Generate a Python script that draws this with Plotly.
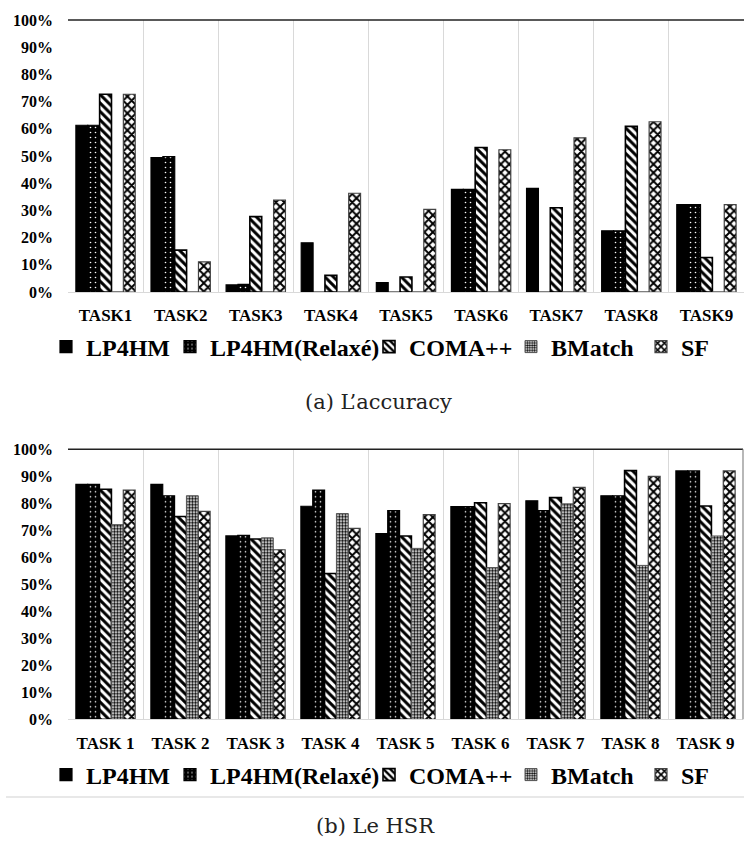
import plotly.graph_objects as go

tasks_a = ["TASK1", "TASK2", "TASK3", "TASK4", "TASK5", "TASK6", "TASK7", "TASK8", "TASK9"]
tasks_b = ["TASK 1", "TASK 2", "TASK 3", "TASK 4", "TASK 5", "TASK 6", "TASK 7", "TASK 8", "TASK 9"]
series_names = ["LP4HM", "LP4HM(Relaxé)", "COMA++", "BMatch", "SF"]

# (a) accuracy, percent
acc_lp4hm = [61.3, 49.4, 2.6, 18.1, 3.5, 37.7, 38.1, 22.5, 32.1]
acc_relaxe = [61.3, 49.8, 2.8, 0, 0, 37.7, 0, 22.5, 32.1]
acc_coma = [72.7, 15.4, 27.7, 6.1, 5.5, 53.1, 31.0, 60.9, 12.7]
acc_bmatch = [0, 0, 0, 0, 0, 0, 0, 0, 0]
acc_sf = [72.7, 11.1, 33.8, 36.3, 30.4, 52.3, 56.7, 62.6, 32.1]

# (b) HSR, percent
hsr_lp4hm = [87.0, 87.0, 67.9, 78.9, 68.8, 78.8, 80.9, 82.8, 92.0]
hsr_relaxe = [87.0, 82.8, 68.1, 84.9, 77.3, 78.8, 77.3, 82.8, 92.0]
hsr_coma = [85.2, 75.1, 66.8, 54.0, 67.9, 80.2, 82.1, 92.1, 79.0]
hsr_bmatch = [72.1, 82.8, 67.2, 76.2, 63.3, 56.2, 79.8, 57.0, 67.9]
hsr_sf = [84.9, 77.0, 62.8, 70.7, 75.8, 79.9, 85.9, 90.0, 92.0]

y_ticks = [0, 10, 20, 30, 40, 50, 60, 70, 80, 90, 100]
y_ticktext = ["0%", "10%", "20%", "30%", "40%", "50%", "60%", "70%", "80%", "90%", "100%"]

W, H = 744, 843
SERIF = "Liberation Serif"
CAPTION_FONT = "DejaVu Serif"

styles = [
    dict(color="black", line=dict(color="black", width=1.2)),
    dict(color="black", line=dict(color="black", width=1.2),
         pattern=dict(shape=".", fgcolor="white", bgcolor="black", size=5, solidity=0.08, fillmode="replace")),
    dict(color="white", line=dict(color="black", width=1.6),
         pattern=dict(shape="\\", fgcolor="black", bgcolor="white", size=6, solidity=0.5, fillmode="replace")),
    dict(color="white", line=dict(color="#555555", width=1.0),
         pattern=dict(shape=".", fgcolor="black", bgcolor="white", size=3, solidity=0.55, fillmode="replace")),
    dict(color="white", line=dict(color="#444444", width=1.2),
         pattern=dict(shape="x", fgcolor="black", bgcolor="white", size=6, solidity=0.55, fillmode="replace")),
]

fig = go.Figure()

data_a = [acc_lp4hm, acc_relaxe, acc_coma, acc_bmatch, acc_sf]
data_b = [hsr_lp4hm, hsr_relaxe, hsr_coma, hsr_bmatch, hsr_sf]

# legend symbol left edges (px) for each chart
leg_sym_x = [60, 184, 383, 525, 655]
leg_y_a = 347
leg_y_b = 775

for i, (name, vals) in enumerate(zip(series_names, data_a)):
    fig.add_trace(go.Bar(x=tasks_a, y=vals, name=name, marker=styles[i],
                         xaxis="x", yaxis="y", legend="legend" if i == 0 else f"legend{i+1}"))
for i, (name, vals) in enumerate(zip(series_names, data_b)):
    fig.add_trace(go.Bar(x=tasks_b, y=vals, name=name, marker=styles[i],
                         xaxis="x2", yaxis="y2", legend=f"legend{i+6}"))

def px_x(p):
    return p / W

def px_y(p):
    return 1 - p / H

legends = {}
for i in range(5):
    for j, ly in enumerate([leg_y_a, leg_y_b]):
        k = i + 1 + 5 * j
        key = "legend" if k == 1 else f"legend{k}"
        legends[key] = dict(
            x=px_x(leg_sym_x[i] - 14), xanchor="left",
            y=px_y(ly), yanchor="middle",
            orientation="h", bgcolor="rgba(0,0,0,0)", borderwidth=0,
            font=dict(family=SERIF, size=24, color="black", weight="bold"),
            itemclick=False, itemdoubleclick=False,
        )

axis_x_common = dict(
    type="category", tickson="boundaries", showgrid=True, gridcolor="#d9d9d9", gridwidth=1,
    showline=True, linecolor="#d9d9d9", linewidth=1, ticks="", zeroline=False,
    tickfont=dict(family=SERIF, size=17, color="black", weight="bold"),
    ticklabelstandoff=8, automargin=False,
)
axis_y_common = dict(
    range=[0, 100], tickvals=y_ticks, ticktext=y_ticktext, showgrid=False, zeroline=False,
    showline=False, ticks="",
    tickfont=dict(family=SERIF, size=16, color="black", weight="bold"),
    ticklabelstandoff=14, automargin=False,
)

fig.update_layout(
    width=W, height=H,
    font=dict(family=SERIF, color="black"),
    margin=dict(l=0, r=0, t=0, b=0, autoexpand=False),
    paper_bgcolor="white", plot_bgcolor="white",
    barmode="group", bargap=0.21, bargroupgap=0,
    xaxis=dict(domain=[px_x(68), 1.0], anchor="y", **axis_x_common),
    yaxis=dict(domain=[px_y(292), px_y(20)], anchor="x", **axis_y_common),
    xaxis2=dict(domain=[px_x(68), px_x(743)], anchor="y2", **axis_x_common),
    yaxis2=dict(domain=[px_y(719.3), px_y(449.3)], anchor="x2", **axis_y_common),
    showlegend=True,
    **legends,
)

# top border lines at 100%
fig.add_shape(type="line", xref="x domain", yref="y domain", x0=0, x1=1, y0=1, y1=1,
              line=dict(color="#222222", width=1.5))
fig.add_shape(type="line", xref="x2 domain", yref="y2 domain", x0=0, x1=1, y0=1, y1=1,
              line=dict(color="#222222", width=1.5))
fig.add_shape(type="line", xref="x2 domain", yref="y2 domain", x0=1, x1=1, y0=0, y1=1,
              line=dict(color="#888888", width=1.2))
# outer frame fragment of lower chart
fig.add_shape(type="line", xref="paper", yref="paper", x0=px_x(6), x1=1, y0=px_y(797), y1=px_y(797),
              line=dict(color="#e0e0e0", width=1.5))

fig.add_annotation(text="(a) L’accuracy", x=px_x(378), y=px_y(402), xref="paper", yref="paper",
                   showarrow=False, xanchor="center", yanchor="middle",
                   font=dict(family=CAPTION_FONT, size=21, color="#222222"))
fig.add_annotation(text="(b) Le HSR", x=px_x(375), y=px_y(826), xref="paper", yref="paper",
                   showarrow=False, xanchor="center", yanchor="middle",
                   font=dict(family=CAPTION_FONT, size=21, color="#222222"))

fig.write_html(
    "out.html",
    config={"displayModeBar": False},
    post_script="document.body.style.margin='0';document.body.style.overflow='hidden';",
)
